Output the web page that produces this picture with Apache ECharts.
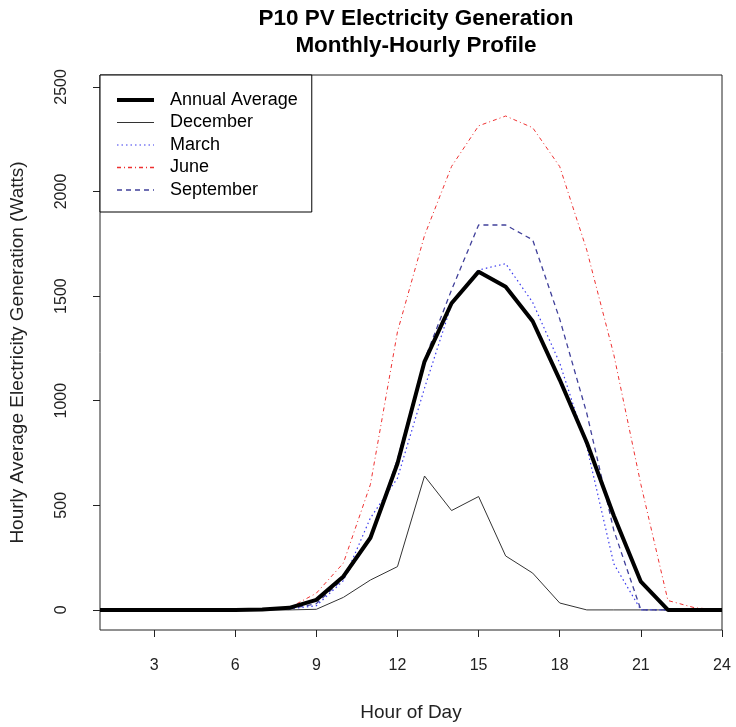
<!DOCTYPE html>
<html>
<head>
<meta charset="utf-8">
<script src="https://cdn.jsdelivr.net/npm/echarts@6/dist/echarts.min.js"></script>
<style>html,body{margin:0;padding:0;background:#fff}#c{width:736px;height:727px}</style>
</head>
<body>
<div id="c"></div>
<script>
var hours = [1,2,3,4,5,6,7,8,9,10,11,12,13,14,15,16,17,18,19,20,21,22,23,24];
var annual = [0,0,0,0,0,0,2,10,48,160,345,700,1187,1466,1617,1545,1380,1100,800,450,135,0,0,0];
var december = [0,0,0,0,0,0,0,0,3,60,143,207,640,475,542,258,176,33,0,0,0,0,0,0];
var march = [0,0,0,0,0,0,0,5,20,140,440,630,1060,1460,1625,1655,1470,1180,780,220,0,0,0,0];
var june = [0,0,0,0,0,0,0,10,80,224,600,1330,1790,2120,2314,2361,2305,2119,1720,1220,600,45,10,0];
var september = [0,0,0,0,0,0,0,5,30,150,340,720,1195,1530,1840,1840,1769,1390,940,380,0,0,0,0];
var xTicks = [3,6,9,12,15,18,21,24];
var yTicks = [0,500,1000,1500,2000,2500];

function pairs(v){ return hours.map(function(h,i){ return [h, v[i]]; }); }
var FONT = 'Liberation Sans, Arial, sans-serif';
var chart = echarts.init(document.getElementById('c'), null, {renderer:'canvas'});
var styles = {
  'Annual Average': {color:'#000', width:4, type:'solid'},
  'December': {color:'#333', width:1, type:'solid'},
  'March': {color:'#3a3aee', width:1.2, type:[1.5,3]},
  'June': {color:'#ee3030', width:1, type:[4,3,1,3]},
  'September': {color:'#40409a', width:1.3, type:[5,4]}
};
var seriesData = {
  'Annual Average': annual, 'December': december, 'March': march, 'June': june, 'September': september
};
var names = ['Annual Average','December','March','June','September'];
var series = names.map(function(n){
  var s = styles[n];
  return {
    name: n, type:'line', data: pairs(seriesData[n]), symbol:'none', smooth:false,
    lineStyle:{color:s.color, width:s.width, type:s.type},
    itemStyle:{color:s.color},
    z: n==='Annual Average' ? 5 : 3,
    animation:false
  };
});
var clear = 'rgba(0,0,0,0)';
chart.setOption({
  animation:false,
  title:{
    text:'P10 PV Electricity Generation\nMonthly-Hourly Profile',
    left:411, top:0, textAlign:'center',
    textStyle:{fontFamily:FONT, fontWeight:'bold', fontSize:22.5, lineHeight:27, color:'#000'}
  },
  legend:{
    orient:'vertical', left:100, top:75,
    data: names.map(function(n){ var s=styles[n]; return {name:n,
      lineStyle:{color:s.color,width:(n==='June'?1.3:s.width),type:s.type},
      itemStyle:{color:clear, borderColor:clear, borderWidth:0}}; }),
    itemWidth:37, itemHeight:14, itemGap:4.5,
    padding:[16,14,13,15],
    borderColor:'#000', borderWidth:1, backgroundColor:'#fff',
    textStyle:{fontFamily:FONT, fontSize:18, lineHeight:18, color:'#000', padding:[0,0,0,11]},
    selectedMode:false
  },
  grid:{left:100, right:14, top:75, bottom:97, show:true, borderColor:'#222', borderWidth:1,
        backgroundColor:'transparent', outerBoundsMode:'none', containLabel:false},
  xAxis:{
    type:'value', min:1, max:24,
    axisLine:{show:false, onZero:false},
    axisTick:{show:true, inside:false, length:7, lineStyle:{color:'#222'}, customValues:xTicks},
    axisLabel:{fontFamily:FONT, fontSize:16, color:'#222', margin:28, customValues:xTicks},
    splitLine:{show:false},
    name:'Hour of Day', nameLocation:'middle', nameGap:73,
    nameTextStyle:{fontFamily:FONT, fontSize:19, color:'#222'}
  },
  yAxis:{
    type:'value', min:-96, max:2557,
    axisLine:{show:false, onZero:false},
    axisTick:{show:true, inside:false, length:7, lineStyle:{color:'#222'}, customValues:yTicks},
    axisLabel:{fontFamily:FONT, fontSize:16, color:'#222', margin:30, rotate:90, customValues:yTicks,
               formatter:function(v){ return String(v); }},
    splitLine:{show:false},
    name:'Hourly Average Electricity Generation (Watts)', nameLocation:'middle', nameGap:73, nameRotate:90,
    nameTextStyle:{fontFamily:FONT, fontSize:19, color:'#222'}
  },
  series: series
});
</script>
</body>
</html>
